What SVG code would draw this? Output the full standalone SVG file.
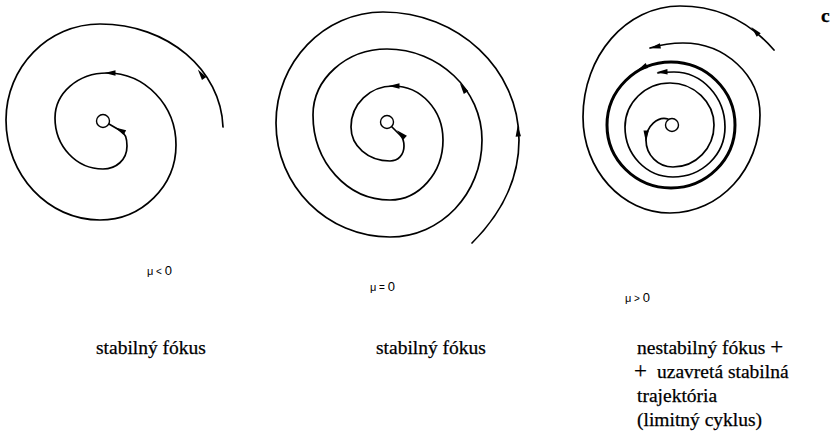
<svg xmlns="http://www.w3.org/2000/svg" xmlns:xlink="http://www.w3.org/1999/xlink" width="830" height="442" viewBox="0 0 830 442">
<style>
.sp{fill:none;stroke:#000;stroke-width:1.7;stroke-linecap:round;stroke-linejoin:round}
.thick{fill:none;stroke:#000;stroke-width:3}
.ctr{fill:#fff;stroke:#000;stroke-width:1.4}
.ar{fill:#000}
.mu{font-family:"Liberation Sans",Arial,sans-serif;font-size:13px;fill:#000}
.lb{font-family:"Liberation Serif","Times New Roman",serif;font-size:19.5px;fill:#000;stroke:#000;stroke-width:0.25}
</style>
<defs>
<path id="ah" d="M5.5,0 L-5.5,-2.7 L-5.5,2.7 Z"/>
</defs>
<rect width="830" height="442" fill="#fff"/>
<g id="connectors">
<path class="sp" d="M223,127 C221,70 168,24 100,24 C48,24 6,67 6,120 C6,175 48,220 100,220 C142,220 176,186 176,145 C176,105 145,73 107,73 C78,73 55,93 55,118 C55,146 76,169 103,169 C116,169 127,160 127,146 C127,138 125,133 121,131 L109,124"/>
<path class="sp" d="M472,243 C500,215 519,180 519,140 C519,69 458,12 383,12 C324,12 276,62 276,123 C276,186 327,237 390,237 C441,237 482,194 482,140 C482,90 439,49 387,49 C346,49 313,79 313,115 C313,162 347,200 390,200 C419,200 443,173 443,140 C443,110 421,86 393,86 C370,86 351,104 351,127 C351,146 368,161 390,161 C398,161 404,155 404,146 C404,141 402,137 400,135 L392,127"/>
<path class="sp" d="M668,119 C658,116 646,126 646,140 C646,155 658,167 673,167 C696,167 714,148 714,125 C714,102 694,83 670,83 C645,83 625,103 625,127 C625,155 646.5,177 673,177 C702,177 725,155 725,127 C725,97 702,72 674,72 C668,72 663,72 658,73"/>
<ellipse class="thick" cx="671" cy="125" rx="64" ry="63"/>
<path class="sp" d="M774,50 C748,20 716,6 680,6 C626,6 583,56 583,117 C583,170 622,213 670,213 C720,213 760,169 760,115 C760,75 725,43 683,43 C670,43 660,45 650,48"/>
<use class="ar" xlink:href="#ah" transform="translate(201,74) rotate(-125)"/>
<use class="ar" xlink:href="#ah" transform="translate(110,73) rotate(180)"/>
<use class="ar" xlink:href="#ah" transform="translate(120,130) rotate(208)"/>
<use class="ar" xlink:href="#ah" transform="translate(518,131) rotate(-93)"/>
<use class="ar" xlink:href="#ah" transform="translate(463,88) rotate(-124)"/>
<use class="ar" xlink:href="#ah" transform="translate(394,86) rotate(180)"/>
<use class="ar" xlink:href="#ah" transform="translate(401,134) rotate(222)"/>
<use class="ar" xlink:href="#ah" transform="translate(646,136) rotate(92)"/>
<use class="ar" xlink:href="#ah" transform="translate(662,72) rotate(178)"/>
<use class="ar" xlink:href="#ah" transform="translate(642,68) rotate(153)"/>
<use class="ar" xlink:href="#ah" transform="translate(755,31) rotate(-133)"/>
<use class="ar" xlink:href="#ah" transform="translate(655,47) rotate(168)"/>
</g>
<g id="focus1"><circle class="ctr" cx="103" cy="121" r="6.5"/></g>
<g id="focus2"><circle class="ctr" cx="387" cy="122" r="6.5"/></g>
<g id="focus3"><circle class="ctr" cx="672" cy="125" r="6.5"/></g>
<g id="labels">
<text class="mu" x="147" y="275"><tspan font-size="11">μ</tspan><tspan font-size="10"> &lt; </tspan>0</text>
<text class="mu" x="370" y="291"><tspan font-size="11">μ</tspan><tspan font-size="10"> = </tspan>0</text>
<text class="mu" x="625" y="302"><tspan font-size="11">μ</tspan><tspan font-size="10"> &gt; </tspan>0</text>
<text class="lb" x="96" y="354">stabilný fókus</text>
<text class="lb" x="376" y="354">stabilný fókus</text>
<text class="lb" x="637" y="354">nestabilný fókus <tspan font-size="23">+</tspan></text>
<text class="lb" x="634" y="378"><tspan font-size="23">+</tspan><tspan x="657">uzavretá stabilná</tspan></text>
<text class="lb" x="637" y="402">trajektória</text>
<text class="lb" x="637" y="426">(limitný cyklus)</text>
<text class="lb" x="821" y="22" font-size="24" font-weight="bold">c</text>
</g>
</svg>
